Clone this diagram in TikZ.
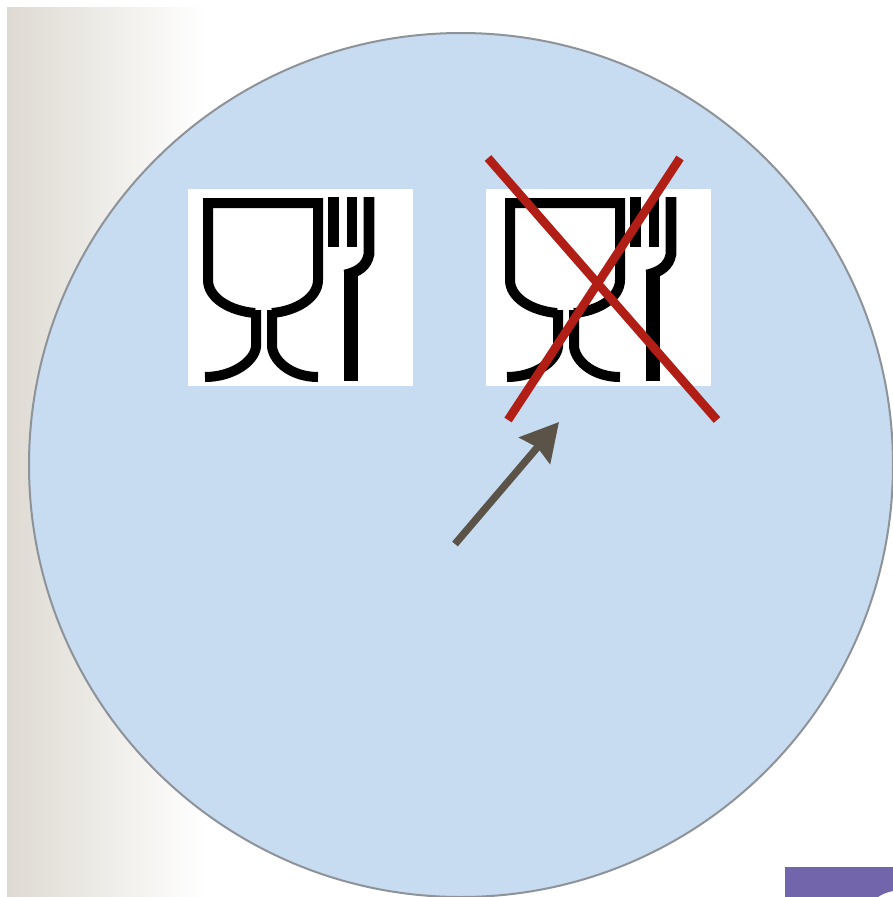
\documentclass[tikz,border=0pt]{standalone}
\usetikzlibrary{arrows.meta}
\definecolor{discblue}{RGB}{199,220,240}
\definecolor{discrim}{RGB}{142,146,153}
\definecolor{crossred}{RGB}{176,30,22}
\definecolor{arrowgrey}{RGB}{91,82,72}
\definecolor{tabpurple}{RGB}{114,101,172}
\tikzset{
    markline/.style={line width=7.5pt,color=black,miter limit=10},
    crossline/.style={line width=6.5pt,color=crossred},
    pointer/.style={line width=5.5pt,color=arrowgrey,-{Stealth[length=28pt,width=30pt,inset=3pt]}},
}
\newcommand{\foodmark}[1]{%
    \begin{scope}[shift={(#1,0)}]
    %Shape: Glass bowl
    \draw [markline] (255,313) .. controls (230,311) and (208,298) .. (208,280) -- (208,203) -- (318,203) -- (318,280) .. controls (318,298) and (296,311) .. (272,313) ;
    %Shape: Glass stem
    \draw [markline] (256,310) -- (256,347) .. controls (254,362) and (232,377) .. (205,377) ;
    \draw [markline] (272,310) -- (272,347) .. controls (274,362) and (292,377) .. (318,377) ;
    %Shape: Fork
    \draw [markline,line width=8pt] (333.5,197) -- (333.5,247) ;
    \draw [markline,line width=8pt] (352,197) -- (352,247) ;
    \draw [markline,line width=8pt] (369,197) -- (369,254) .. controls (367,266) and (358,272) .. (345,275) ;
    \draw [markline,line width=11pt] (351,272) -- (351,381) ;
    \end{scope}
}
\begin{document}
\begin{tikzpicture}[x=0.75pt,y=0.75pt,yscale=-1,xscale=1]
    \useasboundingbox (0,0) rectangle (893,897);

    %Shape: Wall shading
    \shade [left color={rgb,255:red,222;green,218;blue,210},middle color={rgb,255:red,245;green,244;blue,240},right color=white] (7,7) rectangle (205,897);
    %Shape: Purple tab
    \fill [tabpurple] (785,867) -- (893,867) -- (893,891) .. controls (888,892) and (882,894) .. (878,897) -- (785,897) -- cycle ;
    %Shape: Disc
    \draw [color=discrim,line width=1.5pt,fill=discblue] (461,465) circle [radius=432] ;

    %Shape: Left label
    \fill [white] (188,189) rectangle (413,386);
    \foodmark{0}
    %Shape: Right label
    \fill [white] (486,189) rectangle (711,386);
    \foodmark{302}

    %Shape: Cross
    \coordinate (crossA) at (488,158);
    \coordinate (crossB) at (717,420);
    \coordinate (crossC) at (680,158);
    \coordinate (crossD) at (508,420);
    \draw [crossline] (crossA) -- (crossB);
    \draw [crossline] (crossC) -- (crossD);

    %Shape: Arrow
    \coordinate (arrowTail) at (455,544);
    \coordinate (arrowTip) at (559,422);
    \draw [pointer] (arrowTail) -- (arrowTip);
\end{tikzpicture}
\end{document}
